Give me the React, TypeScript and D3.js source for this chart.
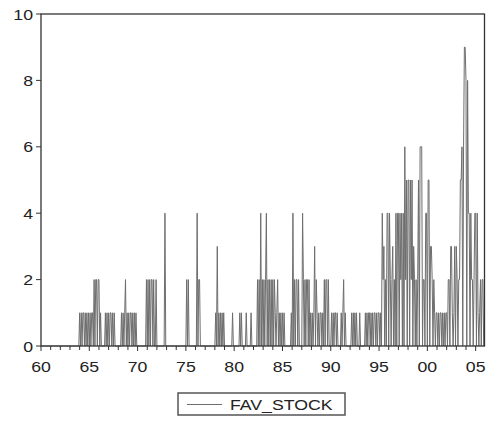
import React from "react";
import * as d3 from "d3";

// Monthly FAV_STOCK counts, 1960M01–2005M12 (one row per year)
const fav1960s = [
  [0,0,0,0,0,0,0,0,0,0,0,0],
  [0,0,0,0,0,0,0,0,0,0,0,0],
  [0,0,0,0,0,0,0,0,0,0,0,0],
  [0,0,0,0,0,0,0,0,0,0,0,0],
  [1,0,1,0,1,1,0,1,0,1,0,1],
  [0,1,0,1,1,0,2,0,2,2,0,2],
  [2,0,1,0,0,0,0,0,1,0,1,0],
  [1,0,1,1,0,1,0,1,0,0,0,0],
  [0,0,0,0,1,0,1,0,1,2,0,1],
  [0,1,0,1,1,0,1,0,1,0,1,0],
];
const fav1970s = [
  [0,0,0,0,0,0,0,0,0,0,0,2],
  [0,2,0,2,0,2,2,0,2,0,0,2],
  [0,0,0,0,0,0,0,0,0,0,4,0],
  [0,0,0,0,0,0,0,0,0,0,0,0],
  [0,0,0,0,0,0,0,0,0,0,0,0],
  [0,2,0,2,0,0,0,0,0,0,0,0],
  [0,0,4,0,2,2,0,0,0,0,0,0],
  [0,0,0,0,0,0,0,0,0,0,0,0],
  [0,1,0,3,0,1,0,1,0,1,0,1],
  [0,0,0,0,0,0,0,0,0,0,1,0],
];
const fav1980s = [
  [0,0,0,0,0,0,0,1,0,1,0,0],
  [0,0,0,1,0,0,0,0,0,1,0,0],
  [0,0,0,0,0,2,0,2,0,4,0,2],
  [0,2,0,2,4,0,2,0,2,0,2,0],
  [2,0,2,1,0,1,2,0,1,0,1,0],
  [1,0,1,0,0,0,0,0,0,0,0,1],
  [0,4,0,2,0,2,2,0,2,0,0,0],
  [0,4,2,0,2,0,2,2,0,2,0,1],
  [0,1,0,1,3,0,2,1,0,1,0,1],
  [1,0,1,0,2,0,2,2,0,2,0,0],
];
const fav1990s = [
  [0,1,0,1,0,1,1,0,1,0,0,0],
  [0,1,0,1,2,0,1,0,0,0,0,0],
  [0,0,1,0,1,0,1,0,1,0,0,0],
  [1,0,0,0,0,0,0,1,0,1,0,1],
  [1,0,1,0,1,0,1,1,0,1,0,1],
  [1,0,1,0,4,2,3,0,2,0,4,4],
  [0,4,2,0,2,3,0,2,0,4,0,4],
  [4,0,4,2,4,0,4,0,6,2,5,0],
  [5,5,0,5,2,5,0,3,2,0,2,0],
  [2,5,0,6,6,6,0,2,2,0,4,4],
];
const fav2000s = [
  [0,5,5,0,3,3,2,0,2,1,0,1],
  [1,0,1,0,1,1,0,1,0,1,0,1],
  [1,0,2,2,0,3,3,1,0,1,3,0],
  [3,2,0,2,2,5,5,6,0,6,9,9],
  [8,0,8,4,4,0,4,2,2,0,2,4],
  [4,0,4,1,0,1,2,0,2,2,0,0],
];

const yTicks = [0, 2, 4, 6, 8, 10];
const xTickYears = d3.range(1960, 2006);
const xLabelYears = [1960, 1965, 1970, 1975, 1980, 1985, 1990, 1995, 2000, 2005];
const seriesName = "FAV_STOCK";

const values: number[] = [
  ...fav1960s.flat(),
  ...fav1970s.flat(),
  ...fav1980s.flat(),
  ...fav1990s.flat(),
  ...fav2000s.flat(),
];

const W = 491;
const H = 427;
const L = 41, R = 484.5, T = 14, B = 346;
const FONT = "'Liberation Sans', Arial, sans-serif";

export default function App() {
  const x = d3.scaleLinear().domain([0, values.length - 1]).range([L, R]);
  const y = d3.scaleLinear().domain([0, 10]).range([B, T]);
  const line = d3
    .line<number>()
    .x((_, i) => x(i))
    .y((d) => y(d));
  const path = line(values) || "";

  const label = (txt: string, tx: number, ty: number, anchor: string) => (
    <text
      key={txt + tx + ty}
      transform={`translate(${tx},${ty}) scale(1.18,1)`}
      textAnchor={anchor}
      fontFamily={FONT}
      fontSize={15}
      fill="#222"
    >
      {txt}
    </text>
  );

  return (
    <svg
      width={W}
      height={H}
      style={{ position: "absolute", left: 0, top: 0, background: "#fff" }}
    >
      <rect x={0} y={0} width={W} height={H} fill="#fff" />
      <path d={path} fill="none" stroke="#6e6e6e" strokeWidth={1} />
      <rect x={L} y={T} width={R - L} height={B - T} fill="none" stroke="#333" strokeWidth={1.3} />
      {yTicks.map((t) => (
        <g key={"y" + t}>
          <line x1={L - 5} x2={L} y1={y(t)} y2={y(t)} stroke="#333" strokeWidth={1} />
          {label(String(t), L - 8, y(t) + 5.5, "end")}
        </g>
      ))}
      {xTickYears.map((yr) => {
        const xi = x((yr - 1960) * 12);
        const major = xLabelYears.includes(yr);
        return (
          <line
            key={"xt" + yr}
            x1={xi}
            x2={xi}
            y1={B}
            y2={B + (major ? 5 : 4)}
            stroke="#333"
            strokeWidth={1}
          />
        );
      })}
      {xLabelYears.map((yr) =>
        label(String(yr % 100).padStart(2, "0"), x((yr - 1960) * 12), 372, "middle")
      )}
      <g>
        <rect x={178} y={393} width={167} height={22} fill="#fff" stroke="#555" strokeWidth={1.5} />
        <line x1={187} x2={222} y1={404.5} y2={404.5} stroke="#6e6e6e" strokeWidth={1} />
        {label(seriesName, 230, 410, "start")}
      </g>
    </svg>
  );
}
